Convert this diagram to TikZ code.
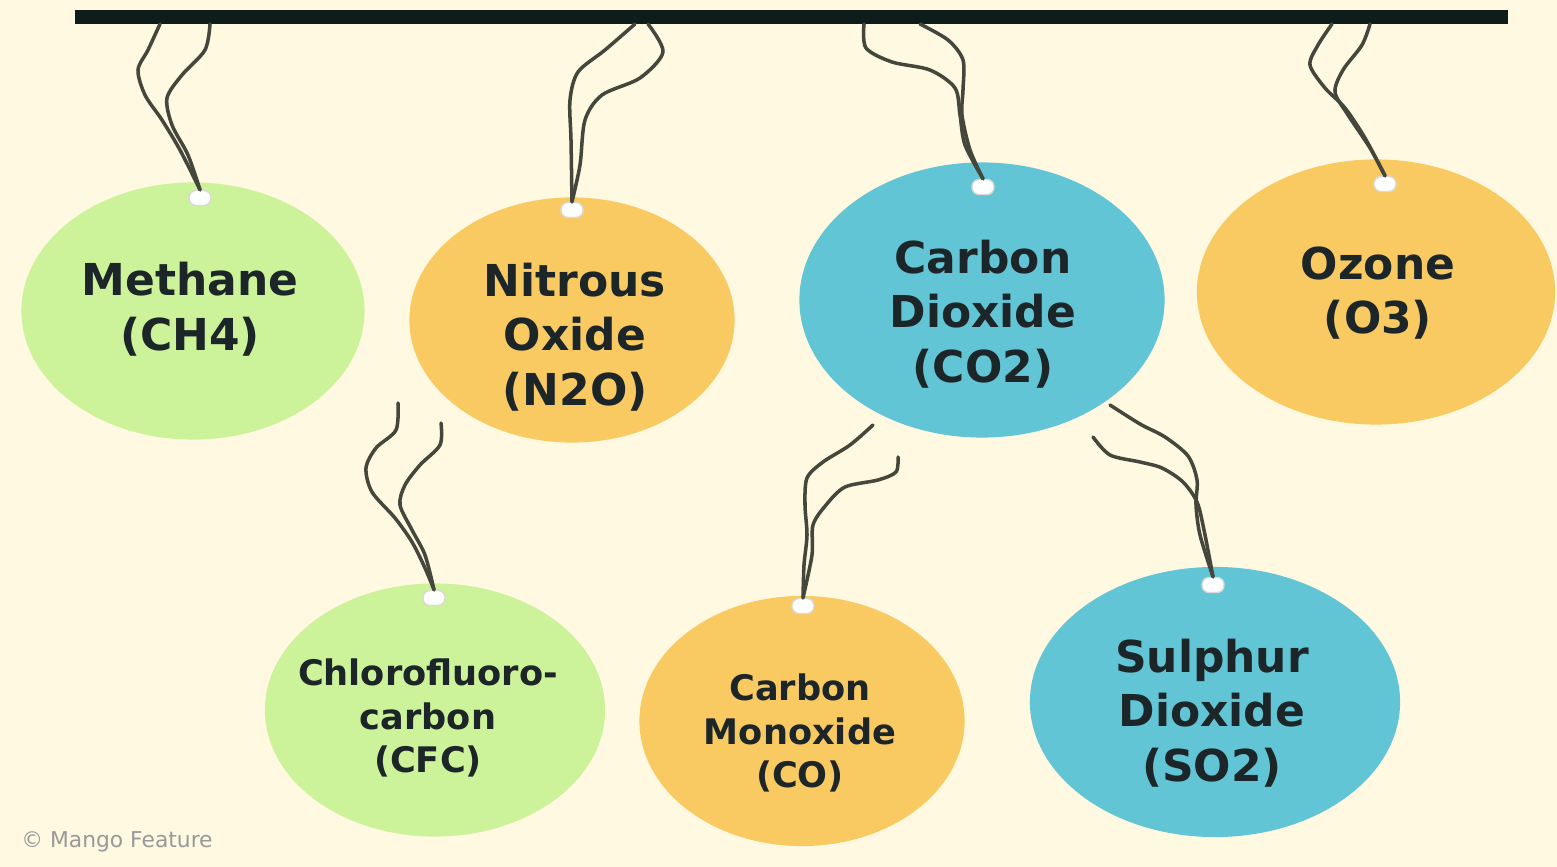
\documentclass[tikz,border=0pt]{standalone}
\usepackage{fontspec}
\setmainfont{DejaVu Sans}
\usepackage{tikz}
\usetikzlibrary{shapes.geometric}
\definecolor{creambg}{HTML}{FFF9E1}
\definecolor{gasgreen}{HTML}{CCF29A}
\definecolor{gasorange}{HTML}{F9CA62}
\definecolor{gasblue}{HTML}{62C5D5}
\definecolor{inkdark}{HTML}{1C2629}
\definecolor{bardark}{HTML}{0F1D1A}
\definecolor{stringgray}{HTML}{45463C}

\begin{document}
\begin{tikzpicture}[x=0.01cm, y=-0.01cm,
  gas/.style={ellipse, inner sep=0pt},
  gastext/.style={align=center, text=inkdark, inner sep=0pt,
    font=\fontsize{12.5}{15.5}\selectfont\bfseries},
  smalltext/.style={gastext, font=\fontsize{10}{12.4}\selectfont\bfseries},
  hole/.style={rectangle, rounded corners=2pt, fill=white, draw=white!85!black,
    line width=0.4pt, minimum width=0.22cm, minimum height=0.15cm, inner sep=0pt},
  strand/.style={stringgray, line width=1pt, line cap=round, line join=round}]
\fill[creambg] (0,0) rectangle (1557,867);
\useasboundingbox (0,0) rectangle (1557,867);
% Hanging bar
\coordinate (barL) at (75,17);
\coordinate (barR) at (1508,17);
\draw[bardark, line width=0.13cm] (barL) -- (barR);
% Gases
\node[gas, fill=gasgreen, minimum width=3.43cm, minimum height=2.57cm] (methane) at (193,311) {};
\node[gas, fill=gasorange, minimum width=3.25cm, minimum height=2.45cm] (nitrous) at (572,320) {};
\node[gas, fill=gasblue, minimum width=3.65cm, minimum height=2.75cm] (carbondi) at (982,300) {};
\node[gas, fill=gasorange, minimum width=3.58cm, minimum height=2.65cm] (ozone) at (1376,292) {};
\node[gas, fill=gasgreen, minimum width=3.40cm, minimum height=2.53cm] (cfc) at (435,710) {};
\node[gas, fill=gasorange, minimum width=3.25cm, minimum height=2.50cm] (carbonmono) at (802,721) {};
\node[gas, fill=gasblue, minimum width=3.70cm, minimum height=2.70cm] (sulphur) at (1215,702) {};
% Names
\node[gastext] (methane-t) at (190,309) {Methane\\(CH4)};
\node[gastext] (nitrous-t) at (575,337) {Nitrous\\Oxide\\(N2O)};
\node[gastext] (carbondi-t) at (983,314) {Carbon\\Dioxide\\(CO2)};
\node[gastext] (ozone-t) at (1378,293) {Ozone\\(O3)};
\node[smalltext] (cfc-t) at (428,718) {Chlorofluoro-\\carbon\\(CFC)};
\node[smalltext] (carbonmono-t) at (800,733) {Carbon\\Monoxide\\(CO)};
\node[gastext] (sulphur-t) at (1212,713) {Sulphur\\Dioxide\\(SO2)};
% Tag holes
\node[hole] (h1) at (200,198) {};
\node[hole] (h2) at (572,210) {};
\node[hole] (h3) at (983,187) {};
\node[hole] (h4) at (1385,184) {};
\node[hole] (h5) at (434,598) {};
\node[hole] (h6) at (803,606) {};
\node[hole] (h7) at (1213,585) {};
% String ends
\foreach \n/\x/\y in {ma/160/24, mb/210/24, na/635/24, nb/648/24, ca/864/24, cb/920/24,
  oa/1332/24, ob/1370/24, fa/398/403, fb/441/423, ka/873/425, kb/898/457, sa/1110/405, sb/1093/437}
  \coordinate (\n) at (\x,\y);
% Strings (two twisted strands each)
\draw[strand] plot[smooth] coordinates {(ma) (148,50) (138,70) (145,95) (162,120) (180,150) (h1.north)};
\draw[strand] plot[smooth] coordinates {(mb) (205,50) (182,75) (167,98) (172,125) (188,155) (h1.north)};
\draw[strand] plot[smooth] coordinates {(na) (605,50) (578,72) (570,100) (571,140) (h2.north)};
\draw[strand] plot[smooth] coordinates {(nb) (663,52) (640,78) (602,95) (585,120) (580,165) (h2.north)};
\draw[strand] plot[smooth] coordinates {(ca) (866,48) (892,62) (930,70) (955,88) (960,115) (965,145) (h3.north)};
\draw[strand] plot[smooth] coordinates {(cb) (948,40) (963,60) (963,90) (962,115) (970,150) (h3.north)};
\draw[strand] plot[smooth] coordinates {(oa) (1318,45) (1310,65) (1325,88) (1345,108) (1365,138) (h4.north)};
\draw[strand] plot[smooth] coordinates {(ob) (1362,45) (1343,70) (1335,92) (1348,115) (1370,148) (h4.north)};
\draw[strand] plot[smooth] coordinates {(fa) (396,430) (376,448) (366,468) (372,492) (395,518) (412,542) (425,568) (h5.north)};
\draw[strand] plot[smooth] coordinates {(fb) (440,445) (420,465) (405,485) (400,505) (412,530) (425,555) (h5.north)};
\draw[strand] plot[smooth] coordinates {(ka) (850,445) (823,462) (807,478) (805,505) (807,535) (804,565) (h6.north)};
\draw[strand] plot[smooth] coordinates {(kb) (896,472) (878,480) (845,487) (826,505) (813,525) (812,555) (h6.north)};
\draw[strand] plot[smooth] coordinates {(sa) (1140,424) (1165,437) (1188,456) (1197,480) (1196,505) (1200,535) (h7.north)};
\draw[strand] plot[smooth] coordinates {(sb) (1110,455) (1140,462) (1162,468) (1183,482) (1197,502) (1204,530) (h7.north)};
% Credit
\node[text=gray!80, font=\fontsize{6.2}{7}\selectfont] (credit) at (117,842) {© Mango Feature};
\end{tikzpicture}
\end{document}
